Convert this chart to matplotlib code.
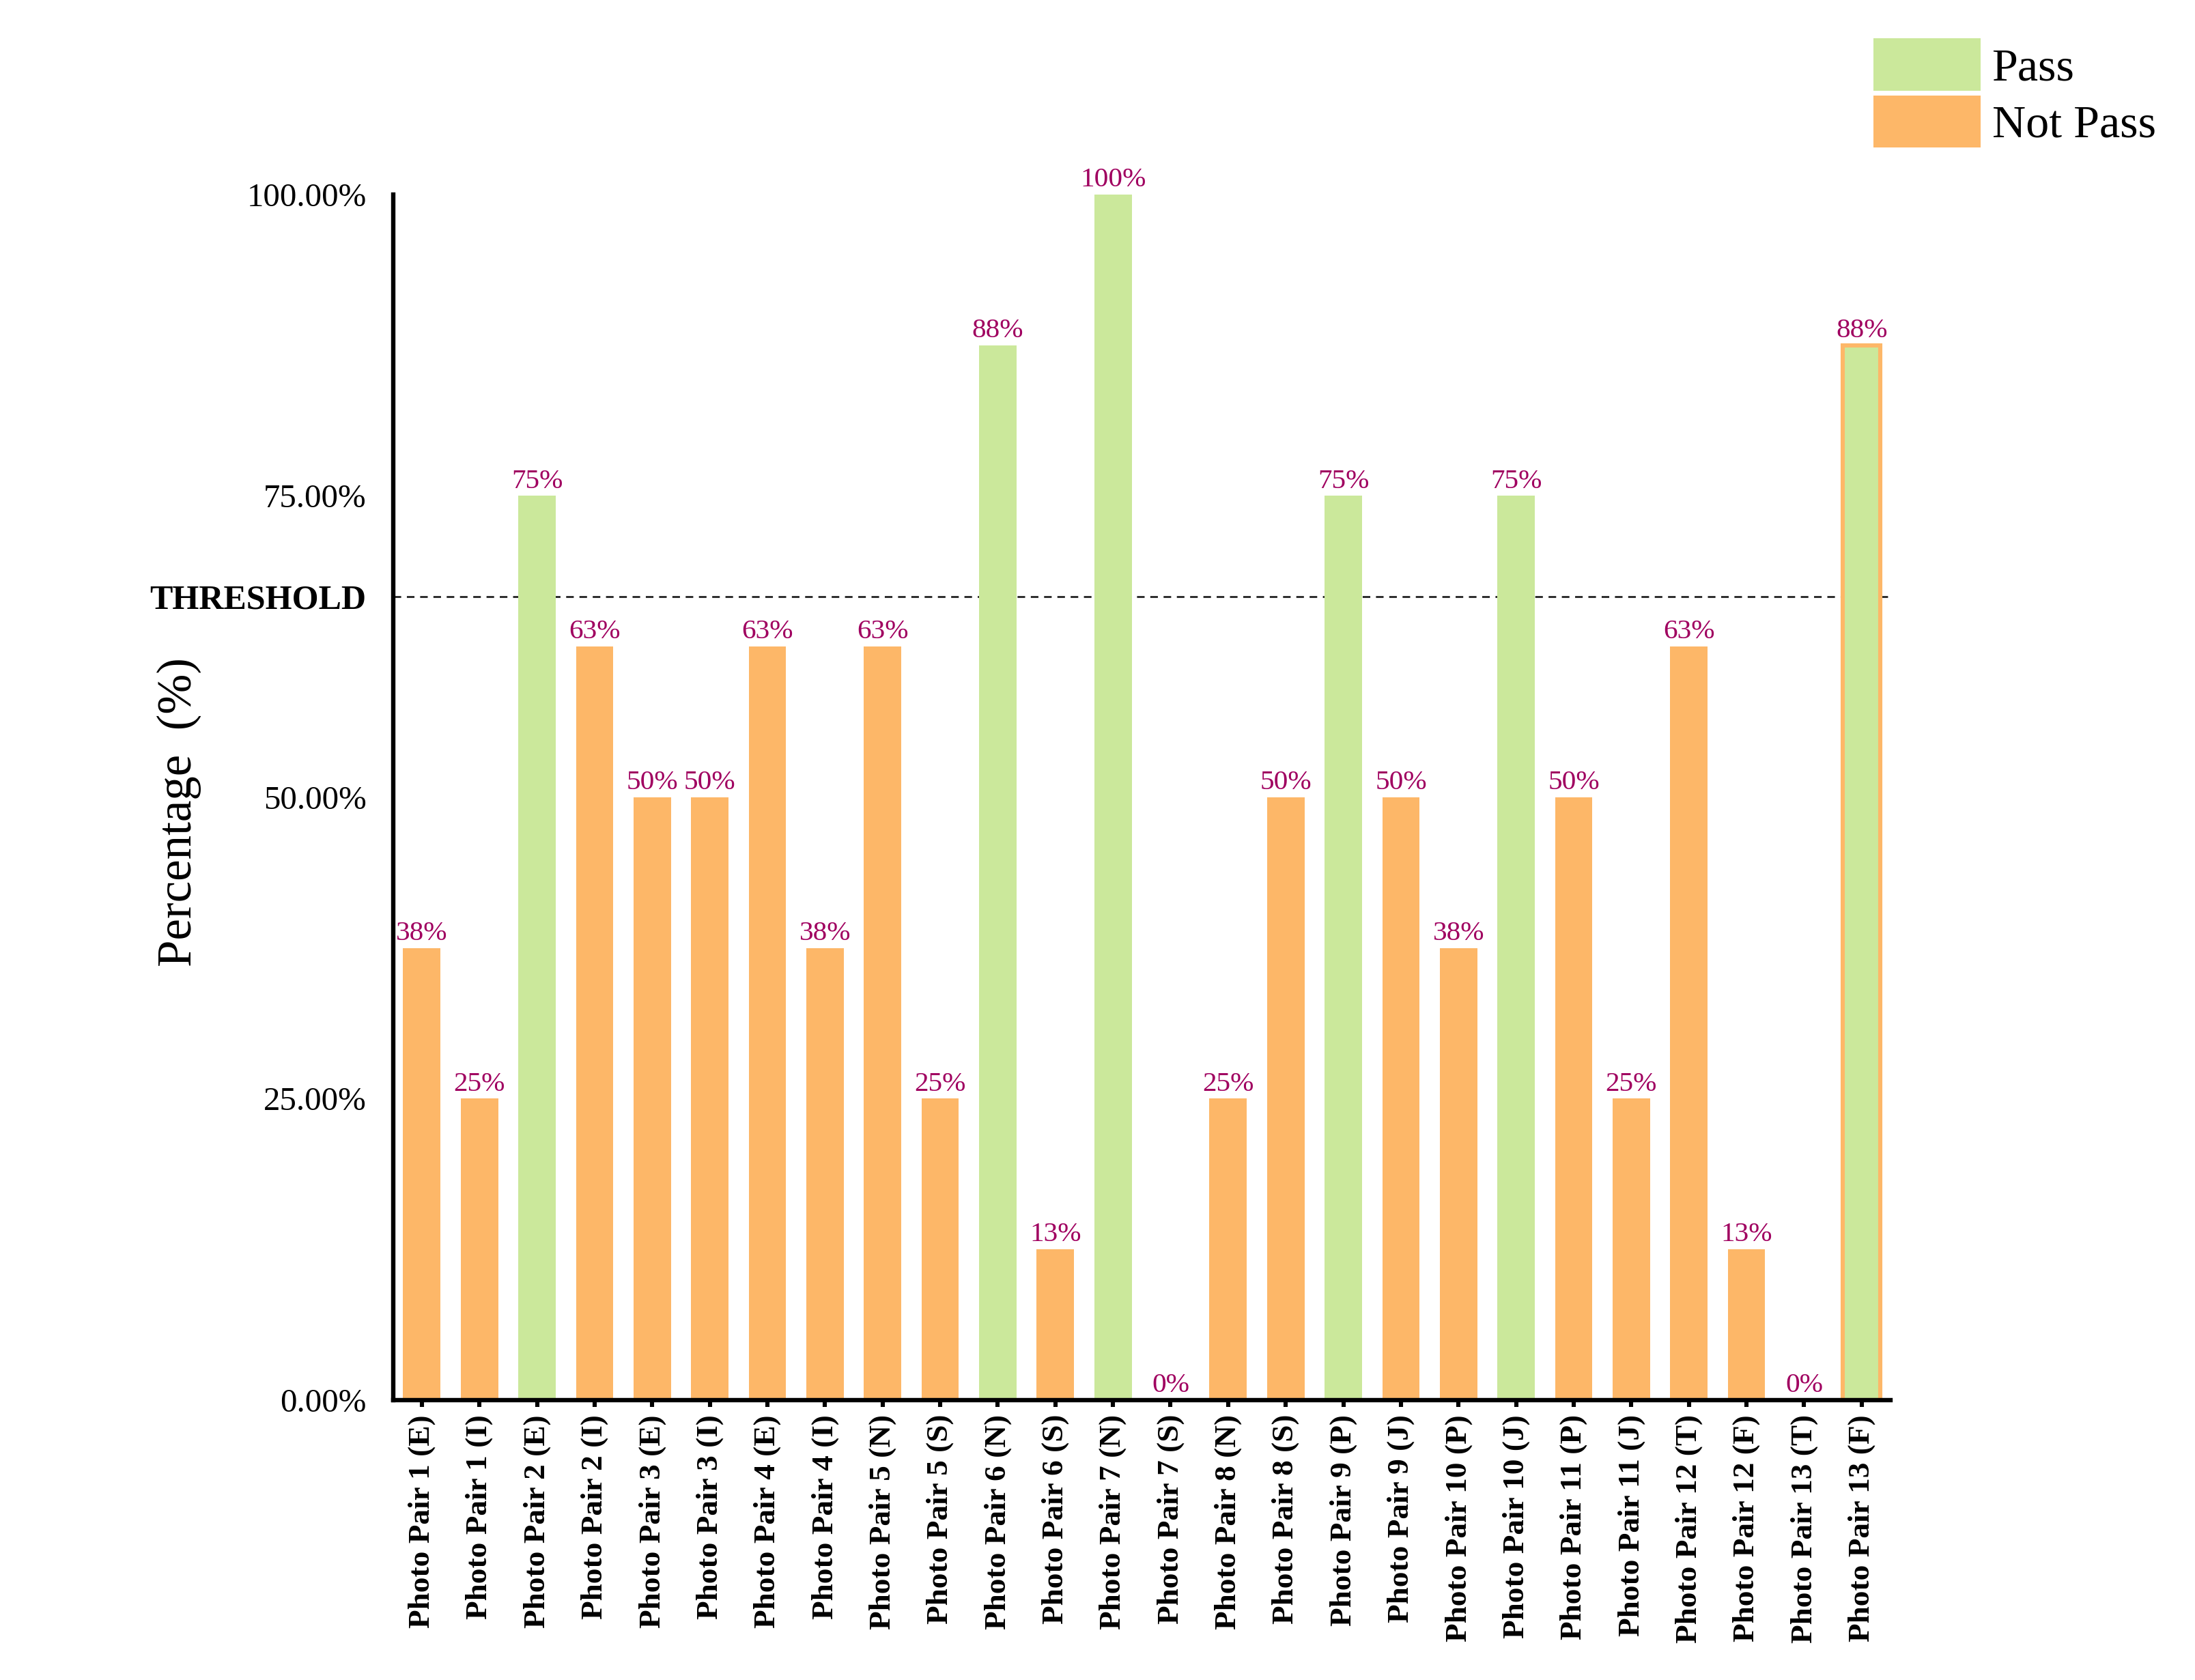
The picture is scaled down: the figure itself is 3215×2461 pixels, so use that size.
import matplotlib
matplotlib.use('Agg')
import matplotlib.pyplot as plt
from matplotlib.patches import Patch

plt.rcParams['font.family'] = ['Liberation Serif', 'DejaVu Serif']

pairs = ['Photo Pair 1 (E)', 'Photo Pair 1 (I)', 'Photo Pair 2 (E)', 'Photo Pair 2 (I)',
         'Photo Pair 3 (E)', 'Photo Pair 3 (I)', 'Photo Pair 4 (E)', 'Photo Pair 4 (I)',
         'Photo Pair 5 (N)', 'Photo Pair 5 (S)', 'Photo Pair 6 (N)', 'Photo Pair 6 (S)',
         'Photo Pair 7 (N)', 'Photo Pair 7 (S)', 'Photo Pair 8 (N)', 'Photo Pair 8 (S)',
         'Photo Pair 9 (P)', 'Photo Pair 9 (J)', 'Photo Pair 10 (P)', 'Photo Pair 10 (J)',
         'Photo Pair 11 (P)', 'Photo Pair 11 (J)', 'Photo Pair 12 (T)', 'Photo Pair 12 (F)',
         'Photo Pair 13 (T)', 'Photo Pair 13 (F)']
percent = [37.5, 25, 75, 62.5, 50, 50, 62.5, 37.5, 62.5, 25, 87.5, 12.5, 100,
           0, 25, 50, 75, 50, 37.5, 75, 50, 25, 62.5, 12.5, 0, 87.5]
threshold = 200 / 3

green = '#CBE89B'
orange = '#FDB768'
label_color = '#A00060'

colors = [green if v >= threshold else orange for v in percent]
edges = ['none'] * len(percent)
edges[-1] = orange  # last bar has an orange outline in the original

fig = plt.figure(figsize=(16.08, 12.305), dpi=200)
ax = fig.add_axes([0.179, 0.1666, 0.682, 0.7176])

x = list(range(len(pairs)))
bars = ax.bar(x, percent, width=0.65, color=colors, edgecolor=edges, linewidth=2.2)
ax.bar_label(bars, labels=['%d%%' % int(v + 0.5) for v in percent],
             padding=1, color=label_color, fontsize=14.8)

ax.axhline(threshold, color='#222222', linewidth=1.0, linestyle=(0, (4, 3)), zorder=0)

ax.set_xlim(-0.5, 25.5)
ax.set_ylim(0, 100)

ax.set_xticks(x)
ax.set_xticklabels(pairs, rotation=90, fontsize=16.3, fontweight='bold')
ax.tick_params(axis='x', length=3.6, width=2.2, pad=4)

yt = [0, 25, 50, 75, threshold, 100]
ax.set_yticks(yt)
ax.set_yticklabels(['0.00%', '25.00%', '50.00%', '75.00%', 'THRESHOLD', '100.00%'], fontsize=17.6)
ax.get_yticklabels()[4].set_fontweight('bold')
ax.get_yticklabels()[4].set_fontsize(18)
ax.tick_params(axis='y', length=0, pad=14)

ax.set_ylabel('Percentage  (%)', fontsize=25.5)
ax.yaxis.set_label_coords(-0.128, 0.488)

for s in ['top', 'right']:
    ax.spines[s].set_visible(False)
for s in ['left', 'bottom']:
    ax.spines[s].set_linewidth(2.3)

handles = [Patch(facecolor=green, label='Pass'), Patch(facecolor=orange, label='Not Pass')]
fig.legend(handles=handles, loc='upper left', bbox_to_anchor=(2744 / 3216, 1 - 56 / 2461),
           frameon=False, fontsize=24.5, borderpad=0, borderaxespad=0,
           handlelength=2.3, handleheight=1.36, labelspacing=0.1, handletextpad=0.25)

fig.savefig('out.png', dpi=200)
